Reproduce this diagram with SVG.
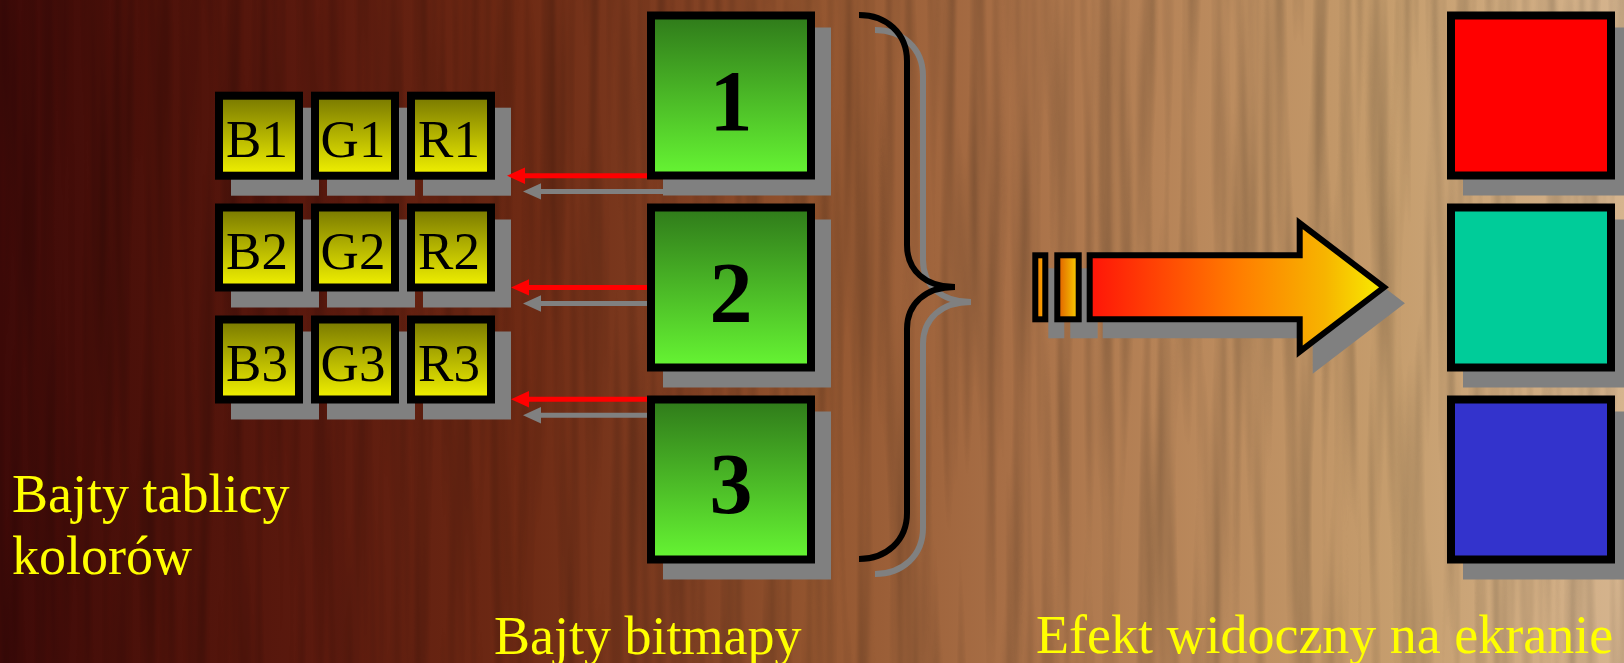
<svg xmlns="http://www.w3.org/2000/svg" width="1624" height="663" viewBox="0 0 1624 663">
<defs>
<linearGradient id="bg" x1="0" y1="0" x2="1" y2="0">
<stop offset="0" stop-color="#3e0a08"/>
<stop offset="0.1" stop-color="#4e120a"/>
<stop offset="0.2" stop-color="#5c1a0e"/>
<stop offset="0.32" stop-color="#6e2a14"/>
<stop offset="0.42" stop-color="#803f22"/>
<stop offset="0.5" stop-color="#93552f"/>
<stop offset="0.62" stop-color="#a86f46"/>
<stop offset="0.74" stop-color="#ba895c"/>
<stop offset="0.86" stop-color="#c69e6e"/>
<stop offset="1" stop-color="#d5b48e"/>
</linearGradient>
<filter id="wood" x="0" y="0" width="1" height="1" filterUnits="objectBoundingBox">
<feTurbulence type="fractalNoise" baseFrequency="0.07 0.0025" numOctaves="2" seed="7"/>
<feColorMatrix type="matrix" values="0 0 0 0 0  0 0 0 0 0  0 0 0 0 0  2 0 0 0 -0.8"/>
</filter>
<linearGradient id="yel" x1="0" y1="0" x2="0" y2="1">
<stop offset="0" stop-color="#777700"/>
<stop offset="1" stop-color="#f2f200"/>
</linearGradient>
<linearGradient id="grn" x1="0" y1="0" x2="0" y2="1">
<stop offset="0" stop-color="#2f7a1a"/>
<stop offset="1" stop-color="#66f533"/>
</linearGradient>
<linearGradient id="arr" x1="0" y1="0" x2="1" y2="0">
<stop offset="0" stop-color="#ff1408"/>
<stop offset="0.5" stop-color="#ff7c00"/>
<stop offset="0.8" stop-color="#f7b400"/>
<stop offset="1" stop-color="#f8ee00"/>
</linearGradient>
<linearGradient id="bar1" x1="0" y1="0" x2="1" y2="0">
<stop offset="0" stop-color="#f07800"/>
<stop offset="1" stop-color="#ffb000"/>
</linearGradient>
<linearGradient id="bar2" x1="0" y1="0" x2="1" y2="0">
<stop offset="0" stop-color="#e05a00"/>
<stop offset="1" stop-color="#f8d400"/>
</linearGradient>
<style>
.sh{fill:#808080}
.ybox{fill:url(#yel);stroke:#000;stroke-width:8}
.gbox{fill:url(#grn);stroke:#000;stroke-width:8}
.cbox{stroke:#000;stroke-width:8}
.yt{font-family:"Liberation Serif","Times New Roman",serif;font-size:53px;fill:#000;text-anchor:middle}
.gt{font-family:"Liberation Serif","Times New Roman",serif;font-size:86px;font-weight:bold;fill:#000;text-anchor:middle}
.lbl{font-family:"Liberation Serif","Times New Roman",serif;font-size:54px;fill:#ffff00}
.red{stroke:#ff0000;stroke-width:5;fill:none}
.gry{stroke:#808080;stroke-width:5;fill:none}
</style>
</defs>

<g id="background">
<rect x="0" y="0" width="1624" height="663" fill="url(#bg)"/>
<rect x="0" y="0" width="1624" height="663" fill="#000" filter="url(#wood)" opacity="0.22"/>
</g>

<g id="palette">
<g id="B1"><rect class="sh" x="231" y="107.7" width="88" height="88"/><rect class="ybox" x="219" y="95.7" width="80" height="80"/><text class="yt" x="257" y="157.3">B1</text></g>
<g id="G1"><rect class="sh" x="327" y="107.7" width="88" height="88"/><rect class="ybox" x="315" y="95.7" width="80" height="80"/><text class="yt" x="353" y="157.3">G1</text></g>
<g id="R1"><rect class="sh" x="423" y="107.7" width="88" height="88"/><rect class="ybox" x="411" y="95.7" width="80" height="80"/><text class="yt" x="449" y="157.3">R1</text></g>
<g id="B2"><rect class="sh" x="231" y="219.5" width="88" height="88"/><rect class="ybox" x="219" y="207.5" width="80" height="80"/><text class="yt" x="257" y="269.1">B2</text></g>
<g id="G2"><rect class="sh" x="327" y="219.5" width="88" height="88"/><rect class="ybox" x="315" y="207.5" width="80" height="80"/><text class="yt" x="353" y="269.1">G2</text></g>
<g id="R2"><rect class="sh" x="423" y="219.5" width="88" height="88"/><rect class="ybox" x="411" y="207.5" width="80" height="80"/><text class="yt" x="449" y="269.1">R2</text></g>
<g id="B3"><rect class="sh" x="231" y="331.5" width="88" height="88"/><rect class="ybox" x="219" y="319.5" width="80" height="80"/><text class="yt" x="257" y="381.1">B3</text></g>
<g id="G3"><rect class="sh" x="327" y="331.5" width="88" height="88"/><rect class="ybox" x="315" y="319.5" width="80" height="80"/><text class="yt" x="353" y="381.1">G3</text></g>
<g id="R3"><rect class="sh" x="423" y="331.5" width="88" height="88"/><rect class="ybox" x="411" y="319.5" width="80" height="80"/><text class="yt" x="449" y="381.1">R3</text></g>
</g>

<g id="connectors">
<path class="gry" d="M663 191.4 H539"/><polygon fill="#808080" points="523,191.4 541,183.2 541,199.6"/>
<path class="red" d="M651 175.7 H523"/><polygon fill="#ff0000" points="507,175.7 525,167.5 525,183.9"/>
<path class="gry" d="M647 303.5 H539"/><polygon fill="#808080" points="523,303.5 541,295.3 541,311.7"/>
<path class="red" d="M647 287.4 H527"/><polygon fill="#ff0000" points="511,287.4 529,279.2 529,295.6"/>
<path class="gry" d="M647 415.2 H539"/><polygon fill="#808080" points="523,415.2 541,407 541,423.4"/>
<path class="red" d="M647 399.2 H527"/><polygon fill="#ff0000" points="511,399.2 529,391 529,407.4"/>
</g>

<g id="bitmap">
<g id="byte1"><rect class="sh" x="663" y="27.5" width="168" height="168"/><rect class="gbox" x="651" y="15.5" width="160" height="160"/><text class="gt" x="731" y="130">1</text></g>
<g id="byte2"><rect class="sh" x="663" y="219.5" width="168" height="168"/><rect class="gbox" x="651" y="207.5" width="160" height="160"/><text class="gt" x="731" y="321.5">2</text></g>
<g id="byte3"><rect class="sh" x="663" y="411.5" width="168" height="168"/><rect class="gbox" x="651" y="399.5" width="160" height="160"/><text class="gt" x="731" y="513">3</text></g>
</g>

<g id="brace" fill="none" stroke-width="6">
<g transform="translate(16,15)" stroke="#808080">
<path d="M859 15 C886 15 907 33 907 61 L907 245 C907 270 925 287 955 287"/>
<path d="M955 287 C925 287 907 304 907 329 L907 513 C907 541 886 559 859 559"/>
</g>
<g stroke="#000">
<path d="M859 15 C886 15 907 33 907 61 L907 245 C907 270 925 287 955 287"/>
<path d="M955 287 C925 287 907 304 907 329 L907 513 C907 541 886 559 859 559"/>
</g>
</g>

<g id="big-arrow" stroke-width="6">
<g transform="translate(16,16)" fill="#808080" stroke="#808080">
<rect x="1035.3" y="255.3" width="10" height="64"/>
<rect x="1057.3" y="255.3" width="21.4" height="64"/>
<polygon points="1089.7,255.3 1299.7,255.3 1299.7,223 1384,287.3 1299.7,351.6 1299.7,319.3 1089.7,319.3"/>
</g>
<rect x="1035.3" y="255.3" width="10" height="64" fill="url(#bar1)" stroke="#000"/>
<rect x="1057.3" y="255.3" width="21.4" height="64" fill="url(#bar2)" stroke="#000"/>
<polygon points="1089.7,255.3 1299.7,255.3 1299.7,223 1384,287.3 1299.7,351.6 1299.7,319.3 1089.7,319.3" fill="url(#arr)" stroke="#000"/>
</g>

<g id="screen">
<g id="red"><rect class="sh" x="1463" y="27.5" width="168" height="168"/><rect class="cbox" x="1451" y="15.5" width="160" height="160" fill="#ff0000"/></g>
<g id="teal"><rect class="sh" x="1463" y="219.5" width="168" height="168"/><rect class="cbox" x="1451" y="207.5" width="160" height="160" fill="#00cc99"/></g>
<g id="blue"><rect class="sh" x="1463" y="411.5" width="168" height="168"/><rect class="cbox" x="1451" y="399.5" width="160" height="160" fill="#3333cc"/></g>
</g>

<g id="labels">
<text class="lbl" x="12" y="512">Bajty tablicy</text>
<text class="lbl" x="12" y="574">kolorów</text>
<text class="lbl" x="494" y="654">Bajty bitmapy</text>
<text class="lbl" x="1036" y="653">Efekt widoczny na ekranie</text>
</g>
</svg>
